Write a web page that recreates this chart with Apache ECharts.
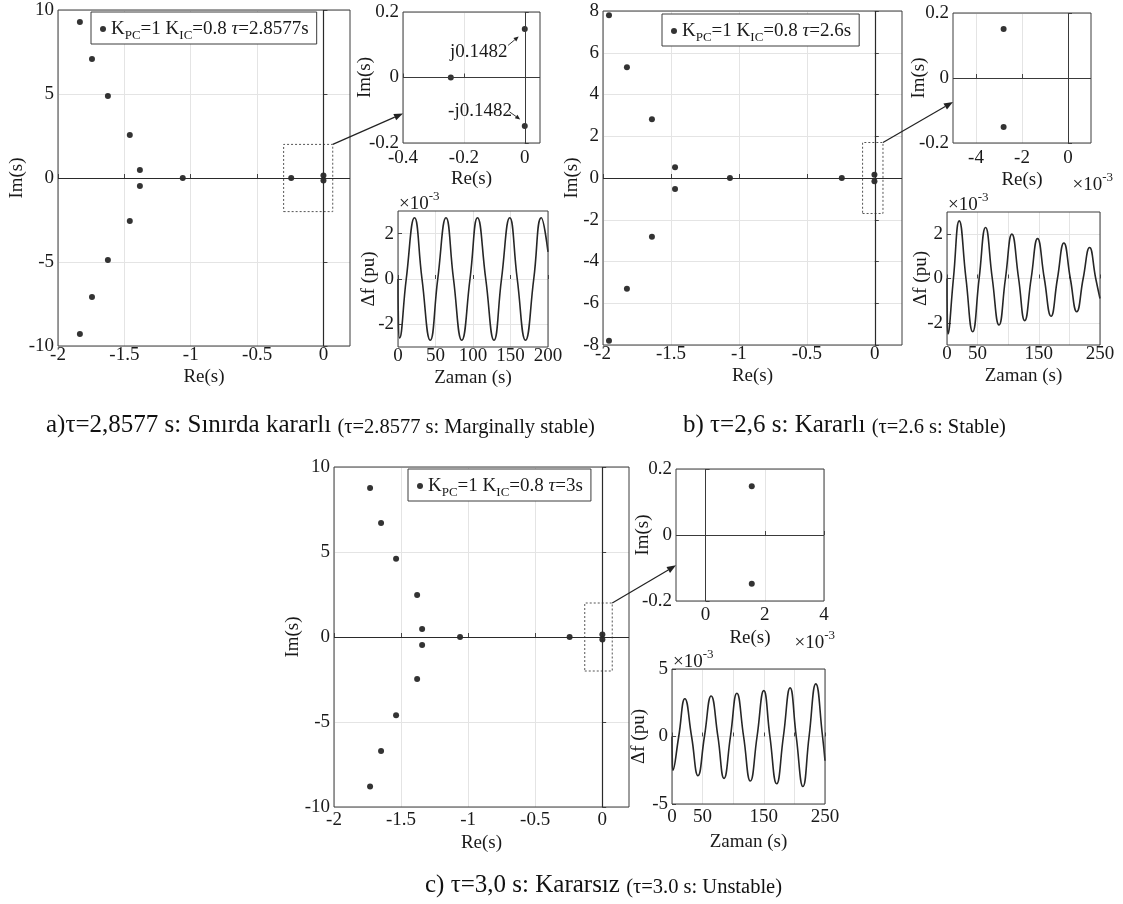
<!DOCTYPE html>
<html><head><meta charset="utf-8">
<script src="https://cdn.jsdelivr.net/npm/echarts@6.0.0/dist/echarts.min.js"></script>
<style>html,body{margin:0;padding:0;background:#fff}#chart{width:1123px;height:904px}</style>
</head><body><div id="chart"></div>
<script>
// ================= DATA =================
// Pole locations (Re, Im)
const poleReA = [-1.835,-1.744,-1.624,-1.459,-1.383,-1.383,-1.459,-1.624,-1.744,-1.835,-1.06,-0.243,0,0];
const poleImA = [9.29,7.08,4.88,2.56,0.48,-0.48,-2.56,-4.88,-7.08,-9.29,0,0,0.1482,-0.1482];
const poleReB = [-1.956,-1.824,-1.64,-1.47,-1.47,-1.64,-1.824,-1.956,-1.066,-0.243,-0.0028,-0.0028];
const poleImB = [7.8,5.31,2.82,0.51,-0.53,-2.82,-5.31,-7.8,0,0,0.151,-0.151];
const poleReC = [-1.731,-1.649,-1.537,-1.38,-1.343,-1.343,-1.38,-1.537,-1.649,-1.731,-1.06,-0.243,0.00156,0.00156];
const poleImC = [8.76,6.7,4.6,2.47,0.47,-0.47,-2.47,-4.6,-6.7,-8.8,0,0,0.148,-0.148];

// Time responses Δf (pu), read at extrema and zero crossings
const timeA = [0,0.4,2,11,22,32,43,53,64,74,85,96,106,117,128,138,149,159,170,181,191,200];
const dfA   = [0,-1.6e-3,-2.6e-3,0,2.7e-3,0,-2.7e-3,0,2.7e-3,0,-2.7e-3,0,2.7e-3,0,-2.7e-3,0,2.7e-3,0,-2.7e-3,0,2.7e-3,1.2e-3];
const timeB = [0,0.4,1.5,10.5,20,31,42,52.5,63,74,85,95.5,106,117,127,137.5,148,159,170,180.5,191,201.5,212,222.5,233,243,250];
const dfB   = [0,-1.6e-3,-2.5e-3,0,2.6e-3,0,-2.4e-3,0,2.3e-3,0,-2.1e-3,0,2.0e-3,0,-1.9e-3,0,1.8e-3,0,-1.7e-3,0,1.6e-3,0,-1.5e-3,0,1.4e-3,0,-0.9e-3];
const timeC = [0,0.4,1.5,11,21,32,42.5,53,64,75,85,95.5,106,117,128,139,150,160,171,182,193,203,214,224,235,246,250];
const dfC   = [0,-1.6e-3,-2.5e-3,0,2.8e-3,0,-2.9e-3,0,3.0e-3,0,-3.1e-3,0,3.2e-3,0,-3.3e-3,0,3.4e-3,0,-3.5e-3,0,3.6e-3,0,-3.7e-3,0,3.9e-3,0,-1.8e-3];

// Legend parameters
const kPC = [1,1,1];
const kIC = [0.8,0.8,0.8];
const tauLegend = ['2.8577','2.6','3'];

// Tick values
const mainXTicks = [-2,-1.5,-1,-0.5,0];
const mainY10Ticks = [-10,-5,0,5,10];
const mainY8Ticks = [-8,-6,-4,-2,0,2,4,6,8];
const insetYTicks = [-0.2,0,0.2];
const insetAXTicks = [-0.4,-0.2,0];
const insetBXTicks = [-0.004,-0.002,0];
const insetCXTicks = [0,0.002,0.004];
const timeAXTicks = [0,50,100,150,200];
const timeBCXTicks = [0,50,100,150,200,250];
const timeBCXLabels = [0,50,150,250];
const timeABYTicks = [-0.002,0,0.002];
const timeCYTicks = [-0.005,0,0.005];

// Zoom rectangles in the main plots [xmin,xmax,ymin,ymax]
const rectA = [-0.3,0.07,-2,2];
const rectB = [-0.09,0.06,-1.7,1.7];
const rectC = [-0.13,0.075,-2,2];
// Arrow target points on inset left edges (inset coords)
const arrowTargetA = [-0.4,-0.11];
const arrowTargetB = [-0.005,-0.074];
const arrowTargetC = [-0.001,-0.092];

// Captions
const captionMain = ['a)τ=2,8577 s: Sınırda kararlı ','b) τ=2,6 s: Kararlı ','c) τ=3,0 s: Kararsız '];
const captionSub  = ['(τ=2.8577 s: Marginally stable)','(τ=2.6 s: Stable)','(τ=3.0 s: Unstable)'];

// ================= LAYOUT =================
const FF = '"Liberation Serif","Times New Roman",serif';
const INK = '#1a1a1a';
const grids = [
  [58,10,292,336],   // 0 main a
  [403,12,137,131],  // 1 inset a
  [398,211,150,136], // 2 time a
  [603,11,299,334],  // 3 main b
  [953,13,138,130],  // 4 inset b
  [947,212,153,133], // 5 time b
  [334,467,295,340], // 6 main c
  [676,469,148,132], // 7 inset c
  [672,669,153,135]  // 8 time c
];

const fmtPlain = v => String(+(+v).toFixed(4));
const fmtMilli = v => String(Math.round(v*1000));

function axisDef(dim, gi, min, max, ticks, labels, fmt, name, gap, margin) {
  return {
    type:'value', gridIndex:gi, min, max,
    position: dim==='x' ? 'bottom' : 'left',
    axisLine:{show:false},
    axisTick:{show:true, inside:true, length:4, customValues:ticks, lineStyle:{color:'#444'}},
    axisLabel:{customValues:labels||ticks, formatter:fmt, fontFamily:FF, fontSize:19, color:INK, margin},
    splitLine:{show:true, lineStyle:{color:'#e4e4e4', width:1}},
    name, nameLocation:'middle', nameGap:gap, nameMoveOverlap:false,
    nameTextStyle:{fontFamily:FF, fontSize:19, color:INK}
  };
}

const xAxes = [
  axisDef('x',0,-2,0.2,mainXTicks,null,fmtPlain,'Re(s)',22,0),
  axisDef('x',1,-0.4,0.05,insetAXTicks,null,fmtPlain,'Re(s)',27,6),
  axisDef('x',2,0,200,timeAXTicks,null,fmtPlain,'Zaman (s)',22,0),
  axisDef('x',3,-2,0.2,mainXTicks,null,fmtPlain,'Re(s)',22,0),
  axisDef('x',4,-0.005,0.001,insetBXTicks,null,fmtMilli,'Re(s)',28,6),
  axisDef('x',5,0,250,timeBCXTicks,timeBCXLabels,fmtPlain,'Zaman (s)',22,0),
  axisDef('x',6,-2,0.2,mainXTicks,null,fmtPlain,'Re(s)',27,4),
  axisDef('x',7,-0.001,0.004,insetCXTicks,null,fmtMilli,'Re(s)',28,5),
  axisDef('x',8,0,250,timeBCXTicks,timeBCXLabels,fmtPlain,'Zaman (s)',29,4)
];
const yAxes = [
  axisDef('y',0,-10,10,mainY10Ticks,null,fmtPlain,'Im(s)',31,4),
  axisDef('y',1,-0.2,0.2,insetYTicks,null,fmtPlain,'Im(s)',28,4),
  axisDef('y',2,-0.003,0.003,timeABYTicks,null,fmtMilli,'Δf (pu)',19,4),
  axisDef('y',3,-8,8,mainY8Ticks,null,fmtPlain,'Im(s)',21,4),
  axisDef('y',4,-0.2,0.2,insetYTicks,null,fmtPlain,'Im(s)',24,4),
  axisDef('y',5,-0.003,0.003,timeABYTicks,null,fmtMilli,'Δf (pu)',16,4),
  axisDef('y',6,-10,10,mainY10Ticks,null,fmtPlain,'Im(s)',31,4),
  axisDef('y',7,-0.2,0.2,insetYTicks,null,fmtPlain,'Im(s)',23,4),
  axisDef('y',8,-0.005,0.005,timeCYTicks,null,fmtMilli,'Δf (pu)',23,4)
];

const zip = (a,b) => a.map((v,i)=>[v,b[i]]);
const zeroLines = (color,w) => ({silent:true, symbol:['none','none'], label:{show:false},
  lineStyle:{color, width:w, type:'solid'}, emphasis:{disabled:true}, data:[{xAxis:0},{yAxis:0}]});
const zoomRect = r => ({silent:true, itemStyle:{color:'rgba(0,0,0,0)', borderColor:'#555', borderWidth:1, borderType:[2,2]},
  data:[[{xAxis:r[0], yAxis:r[2]},{xAxis:r[1], yAxis:r[3]}]]});

const cases = [
  {re:poleReA, im:poleImA, t:timeA, df:dfA, rect:rectA, g0:0},
  {re:poleReB, im:poleImB, t:timeB, df:dfB, rect:rectB, g0:3},
  {re:poleReC, im:poleImC, t:timeC, df:dfC, rect:rectC, g0:6}
];
const legendPos = [[91,12],[662,14],[408,469]];

const series = [];
const legends = [];
cases.forEach((c,i)=>{
  const nm = 'tau'+tauLegend[i];
  series.push({type:'scatter', name:nm, xAxisIndex:c.g0, yAxisIndex:c.g0, data:zip(c.re,c.im),
    symbolSize:6, itemStyle:{color:'#000'}, clip:true,
    markLine:zeroLines('#2a2a2a',1.2), markArea:zoomRect(c.rect)});
  series.push({type:'scatter', name:nm+'_inset', xAxisIndex:c.g0+1, yAxisIndex:c.g0+1, data:zip(c.re,c.im),
    symbolSize:6, itemStyle:{color:'#000'}, clip:true, markLine:zeroLines('#3a3a3a',1)});
  series.push({type:'line', name:nm+'_time', xAxisIndex:c.g0+2, yAxisIndex:c.g0+2, data:zip(c.t,c.df),
    showSymbol:false, smooth:0.5, clip:true, lineStyle:{color:'#262626', width:1.6}});
  legends.push({
    data:[nm], left:legendPos[i][0], top:legendPos[i][1], orient:'horizontal',
    backgroundColor:'#fff', borderColor:'#3c3c3c', borderWidth:1, borderRadius:0,
    padding:[4,8,2,9], itemWidth:6, itemHeight:6, icon:'circle', selectedMode:false,
    itemStyle:{color:'#000'},
    formatter: () => `K{s|PC}=${kPC[i]} K{s|IC}=${kIC[i]} {t|τ}=${tauLegend[i]}s`,
    textStyle:{fontFamily:FF, fontSize:19, color:INK, lineHeight:26, verticalAlign:'middle',
      rich:{ s:{fontFamily:FF, fontSize:13, color:INK, lineHeight:13, verticalAlign:'bottom'},
             t:{fontFamily:FF, fontSize:19, fontStyle:'italic', color:INK, lineHeight:26} }}
  });
});

const chart = echarts.init(document.getElementById('chart'), null, {renderer:'canvas'});
chart.setOption({
  animation:false,
  backgroundColor:'#fff',
  grid: grids.map(g=>({left:g[0], top:g[1], width:g[2], height:g[3], show:true, z:5,
    borderColor:'#3c3c3c', borderWidth:1, backgroundColor:'transparent', containLabel:false, outerBoundsMode:'none'})),
  xAxis:xAxes, yAxis:yAxes, legend:legends, series
});

// ================= ANNOTATIONS =================
const px = (gi, pt) => chart.convertToPixel({xAxisIndex:gi, yAxisIndex:gi}, pt);
function arrow(p1,p2,head,w,lw){
  head = head||9; w = w||3.5; lw = lw||1.2;
  const dx=p2[0]-p1[0], dy=p2[1]-p1[1], L=Math.hypot(dx,dy), ux=dx/L, uy=dy/L;
  const bx=p2[0]-ux*head, by=p2[1]-uy*head;
  return [
    {type:'line', silent:true, z:10, shape:{x1:p1[0],y1:p1[1],x2:bx,y2:by}, style:{stroke:'#222', lineWidth:lw}},
    {type:'polygon', silent:true, z:10, shape:{points:[p2,[bx-uy*w,by+ux*w],[bx+uy*w,by-ux*w]]}, style:{fill:'#222'}}
  ];
}
const supRich = {b:{fontFamily:FF, fontSize:19, fill:INK, lineHeight:24, verticalAlign:'bottom'},
                 p:{fontFamily:FF, fontSize:13, fill:INK, lineHeight:13, verticalAlign:'top'}};
function x10(x,y,align){
  return {type:'text', silent:true, z:10, x, y, style:{text:'{b|×10}{p|-3}', rich:supRich, align:align||'left', verticalAlign:'middle'}};
}
const els = [];
const rects = [rectA,rectB,rectC], targets=[arrowTargetA,arrowTargetB,arrowTargetC];
cases.forEach((c,i)=>{
  const r = rects[i];
  els.push(...arrow(px(c.g0,[r[1],r[3]]), px(c.g0+1,targets[i])));
  const tl = px(c.g0+2, [0, yAxes[c.g0+2].max]);
  els.push(x10(tl[0]+1, tl[1]-9, 'left'));
});
// x10^-3 beside inset b and c Re axes
[[4,22],[7,11]].forEach(([gi,dx])=>{
  const br = px(gi,[xAxes[gi].max, yAxes[gi].min]);
  els.push(x10(br[0]+dx, br[1]+40, 'right'));
});
// j0.1482 annotations in inset a
const annA = [
  {text:'j0.1482', at:[-0.246,0.077], from:[-0.055,0.098], to:[-0.02,0.125]},
  {text:'-j0.1482', at:[-0.252,-0.101], from:[-0.05,-0.105], to:[-0.015,-0.128]}
];
annA.forEach(a=>{
  const p = px(1,a.at);
  els.push({type:'text', silent:true, z:10, x:p[0], y:p[1], style:{text:a.text, fontFamily:FF, fontSize:19, fill:INK, align:'left', verticalAlign:'middle'}});
  els.push(...arrow(px(1,a.from), px(1,a.to), 5, 2.2, 0.9));
});
// captions
const capRich = {m:{fontFamily:FF, fontSize:25, fill:'#111', lineHeight:30, verticalAlign:'bottom'},
                 s:{fontFamily:FF, fontSize:20.5, fill:'#111', lineHeight:27, verticalAlign:'bottom'}};
const capPos = [[46,423],[683,423],[425,883]];
captionMain.forEach((m,i)=>{
  els.push({type:'text', silent:true, z:10, x:capPos[i][0], y:capPos[i][1],
    style:{text:`{m|${m}}{s|${captionSub[i]}}`, rich:capRich, align:'left', verticalAlign:'middle'}});
});
chart.setOption({graphic:{elements:els}});
</script>
</body></html>
